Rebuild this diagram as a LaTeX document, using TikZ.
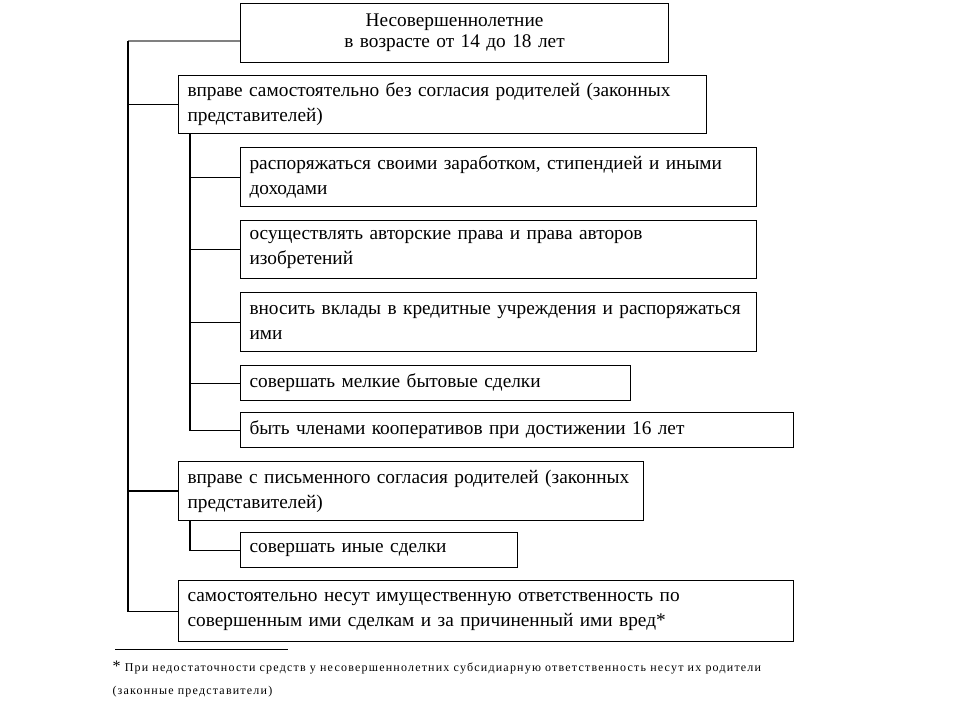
\documentclass[tikz,border=0pt]{standalone}
\usepackage{fontspec}
\setmainfont{Liberation Serif}
\usetikzlibrary{positioning}

\tikzset{box/.style={draw, anchor=north west, align=left, inner xsep=9pt, inner ysep=0pt,
  font=\fontsize{19.3}{25}\selectfont}}

\begin{document}
\begin{tikzpicture}[x=1pt, y=-1pt, line width=1.1pt]
\useasboundingbox (0,0) rectangle (960,720);
\node [box, align=center, text width=410, minimum height=59, font=\fontsize{19.3}{21}\selectfont] (top) at (240,3) {Несовершеннолетние\\в возрасте от 14 до 18 лет};

\node [box, text width=510, minimum height=58] (a) at (178,75) {вправе самостоятельно без согласия родителей (законных\\представителей)};
\node [box, text width=498, minimum height=59] (b1) at (240,147) {распоряжаться своими заработком, стипендией и иными\\доходами};
\node [box, text width=498, minimum height=58] (b2) at (240,220) {осуществлять авторские права и права авторов\\изобретений};
\node [box, text width=498, minimum height=59] (b3) at (240,292) {вносить вклады в кредитные учреждения и распоряжаться\\ими};
\node [box, text width=372, minimum height=35] (b4) at (240,365) {совершать мелкие бытовые сделки};
\node [box, text width=535, minimum height=35] (b5) at (240,412) {быть членами кооперативов при достижении 16 лет};

\node [box, text width=447, minimum height=59] (c) at (178,461) {вправе с письменного согласия родителей (законных\\представителей)};
\node [box, text width=259, minimum height=35] (d) at (240,532) {совершать иные сделки};

\node [box, text width=597, minimum height=61] (e) at (178,580) {самостоятельно несут имущественную ответственность по\\совершенным ими сделкам и за причиненный ими вред*};

% trunk
\coordinate (t0) at (128,41);
\draw [gray] (t0) -- (t0 -| top.west);
\draw (t0) -- (t0 |- e.west) -- (e.west);
\draw (t0 |- a.west) -- (a.west);
\draw [line width=2pt] (t0 |- c.west) -- (c.west);

% branches
\coordinate (s1) at ([xshift=12pt]a.south west);
\draw (s1) |- (b5.west);
\foreach \n in {b1,b2,b3,b4}
  \draw (s1 |- \n.west) -- (\n.west);
\coordinate (s2) at ([xshift=12pt]c.south west);
\draw (s2) |- (d.west);

% footnote
\draw [line width=0.8pt] (115,649) -- (288,649);
\node [anchor=north west, align=left, inner sep=0pt, font=\fontsize{12}{23}\selectfont\addfontfeatures{LetterSpace=10}] (fn) at (112,660)
  {{\fontsize{16}{16}\selectfont *} При недостаточности средств у несовершеннолетних субсидиарную ответственность  несут их родители\\(законные представители)};
\end{tikzpicture}
\end{document}
